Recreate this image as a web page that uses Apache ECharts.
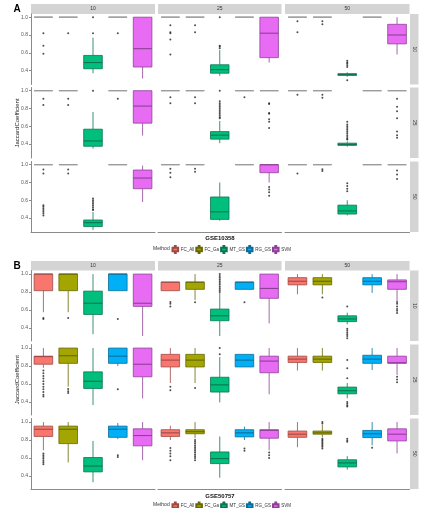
<!DOCTYPE html>
<html>
<head>
<meta charset="utf-8">
<script src="https://cdn.jsdelivr.net/npm/echarts@6/dist/echarts.min.js"></script>
<style>
  html, body { margin: 0; padding: 0; background: #fff; }
  #chart { width: 439px; height: 508px; }
</style>
</head>
<body>
<div id="chart"></div>
<script>
// methods on the x axis, facet labels
const methods = ['FC_All', 'FC_Ga', 'MT_GS', 'RG_GS', 'SVM'];
const colLabels = ['10', '25', '50'];
const rowLabels = ['10', '25', '50'];
const yTicks = [0.4, 0.6, 0.8, 1.0];

// box stats [min, Q1, median, Q3, max] per method, one list per column facet
// GSE10358, row 10
const a10Box = [
  [[1, 1, 1, 1, 1], [1, 1, 1, 1, 1], [0.37, 0.42, 0.49, 0.57, 0.77], [1, 1, 1, 1, 1], [0.31, 0.44, 0.646, 1, 1]],
  [[1, 1, 1, 1, 1], [1, 1, 1, 1, 1], [0.34, 0.37, 0.41, 0.465, 0.63], [1, 1, 1, 1, 1], [0.49, 0.545, 0.82, 1, 1]],
  [[1, 1, 1, 1, 1], [1, 1, 1, 1, 1], [0.33, 0.345, 0.355, 0.365, 0.38], [1, 1, 1, 1, 1], [0.58, 0.70, 0.80, 0.92, 1.0]]
];
const a10Out = [
  [[0.82, 0.68, 0.59], [0.82], [1.0, 0.82], [0.82], []],
  [[0.91, 0.83, 0.82, 0.75, 0.58], [0.91, 0.83], [1.0, 0.68, 0.67, 0.65], [], []],
  [[0.955, 0.83], [0.955, 0.92], [0.51, 0.49, 0.48, 0.46, 0.44, 0.29], [], []]
];
// GSE10358, row 25
const a25Box = [
  [[1, 1, 1, 1, 1], [1, 1, 1, 1, 1], [0.35, 0.375, 0.435, 0.567, 0.76], [1, 1, 1, 1, 1], [0.495, 0.635, 0.827, 1, 1]],
  [[1, 1, 1, 1, 1], [1, 1, 1, 1, 1], [0.41, 0.455, 0.50, 0.54, 0.66], [1, 1, 1, 1, 1], [1, 1, 1, 1, 1]],
  [[1, 1, 1, 1, 1], [1, 1, 1, 1, 1], [0.37, 0.385, 0.395, 0.41, 0.43], [1, 1, 1, 1, 1], [1, 1, 1, 1, 1]]
];
const a25Out = [
  [[0.91, 0.84], [0.91, 0.84], [1.0], [0.91], []],
  [[0.925, 0.86], [0.925, 0.86], [1.0, 0.88, 0.86, 0.84, 0.82, 0.80, 0.78, 0.76, 0.74, 0.72, 0.70, 0.69], [0.925], [0.86, 0.85, 0.75, 0.74, 0.68, 0.65, 0.58]],
  [[0.955], [0.955, 0.92], [0.65, 0.62, 0.60, 0.58, 0.56, 0.54, 0.52, 0.50, 0.48, 0.46, 0.45], [], [0.91, 0.82, 0.77, 0.69, 0.54, 0.50, 0.47]]
];
// GSE10358, row 50
const a50Box = [
  [[1, 1, 1, 1, 1], [1, 1, 1, 1, 1], [0.267, 0.304, 0.348, 0.378, 0.47], [1, 1, 1, 1, 1], [0.58, 0.73, 0.85, 0.94, 0.99]],
  [[1, 1, 1, 1, 1], [1, 1, 1, 1, 1], [0.37, 0.385, 0.47, 0.637, 0.80], [1, 1, 1, 1, 1], [0.80, 0.91, 1.0, 1.0, 1.0]],
  [[1, 1, 1, 1, 1], [1, 1, 1, 1, 1], [0.43, 0.445, 0.48, 0.545, 0.60], [1, 1, 1, 1, 1], [1, 1, 1, 1, 1]]
];
const a50Out = [
  [[0.945, 0.90, 0.545, 0.53, 0.51, 0.49, 0.47, 0.45, 0.43], [0.945, 0.90], [0.62, 0.60, 0.58, 0.56, 0.54, 0.52, 0.50, 0.49], [], []],
  [[0.955, 0.91, 0.86], [0.955, 0.92], [], [], [0.75, 0.72, 0.69, 0.65]],
  [[0.90], [0.95, 0.93], [0.79, 0.76, 0.73, 0.70], [], [0.935, 0.89, 0.84]]
];

// GSE50757, row 10
const b10Box = [
  [[0.575, 0.815, 1, 1, 1], [0.575, 0.815, 1, 1, 1], [0.33, 0.55, 0.675, 0.81, 1], [0.815, 0.815, 1, 1, 1], [0.31, 0.64, 0.675, 1, 1]],
  [[0.815, 0.815, 0.91, 0.91, 0.91], [0.71, 0.83, 0.91, 0.91, 1.0], [0.31, 0.48, 0.535, 0.61, 0.79], [0.83, 0.83, 0.91, 0.91, 0.91], [0.45, 0.73, 0.84, 1.0, 1.0]],
  [[0.775, 0.88, 0.92, 0.96, 1.0], [0.775, 0.88, 0.92, 0.96, 1.0], [0.44, 0.47, 0.50, 0.535, 0.57], [0.79, 0.88, 0.92, 0.96, 1.0], [0.70, 0.83, 0.915, 0.935, 1.0]]
];
const b10Out = [
  [[0.51, 0.50], [0.51], [], [0.50], []],
  [[0.69, 0.67, 0.64], [0.685], [1.0, 0.98, 0.96, 0.94, 0.92, 0.90, 0.88, 0.86, 0.84, 0.82, 0.80], [0.685], []],
  [[], [0.74], [0.64, 0.39, 0.37, 0.35, 0.33, 0.31, 0.285], [], [0.69, 0.67, 0.64, 0.61, 0.59, 0.565]]
];
// GSE50757, row 25
const b25Box = [
  [[0.78, 0.82, 0.905, 0.91, 1.0], [0.57, 0.83, 0.915, 1.0, 1.0], [0.365, 0.55, 0.63, 0.735, 1.0], [0.80, 0.83, 0.91, 1.0, 1.0], [0.44, 0.68, 0.82, 1.0, 1.0]],
  [[0.61, 0.79, 0.866, 0.93, 1.0], [0.61, 0.79, 0.866, 0.93, 1.0], [0.395, 0.51, 0.59, 0.675, 0.90], [0.79, 0.79, 0.866, 0.93, 0.93], [0.485, 0.725, 0.855, 0.91, 1.0]],
  [[0.75, 0.84, 0.877, 0.91, 1.0], [0.75, 0.84, 0.877, 0.91, 1.0], [0.44, 0.49, 0.525, 0.565, 0.61], [0.755, 0.83, 0.877, 0.92, 1.0], [0.70, 0.83, 0.837, 0.91, 1.0]]
];
const b25Out = [
  [[0.75, 0.72, 0.69, 0.66, 0.63, 0.60, 0.57, 0.54, 0.51, 0.48, 0.46], [0.545, 0.52, 0.50], [], [0.54], []],
  [[0.57, 0.53], [0.555], [1.0, 0.93], [], []],
  [[], [], [0.866, 0.775, 0.665, 0.40, 0.38, 0.36, 0.35], [], [0.68, 0.65, 0.62]]
];
// GSE50757, row 50
const b50Box = [
  [[0.685, 0.84, 0.92, 0.955, 1.0], [0.55, 0.76, 0.92, 0.955, 1.0], [0.33, 0.445, 0.51, 0.605, 0.79], [0.81, 0.83, 0.92, 0.955, 0.99], [0.575, 0.735, 0.85, 0.925, 1.0]],
  [[0.80, 0.84, 0.88, 0.915, 0.96], [0.82, 0.87, 0.893, 0.915, 1.0], [0.38, 0.537, 0.593, 0.667, 0.84], [0.80, 0.835, 0.88, 0.915, 0.95], [0.685, 0.82, 0.908, 0.915, 1.0]],
  [[0.72, 0.83, 0.865, 0.90, 1.0], [0.83, 0.865, 0.88, 0.90, 0.97], [0.47, 0.50, 0.545, 0.58, 0.62], [0.74, 0.827, 0.87, 0.907, 1.0], [0.65, 0.79, 0.865, 0.925, 1.0]]
];
const b50Out = [
  [[0.65, 0.63, 0.61, 0.59, 0.57, 0.55, 0.53], [], [], [0.63, 0.61], []],
  [[0.71, 0.68, 0.65, 0.62, 0.575], [0.80, 0.78, 0.76, 0.74, 0.72, 0.70, 0.68, 0.66, 0.64, 0.62, 0.60, 0.575], [], [0.705, 0.68], [0.66, 0.63, 0.60]],
  [[], [1.0, 0.985, 0.815, 0.80, 0.785, 0.77, 0.755, 0.74, 0.725, 0.705], [0.815, 0.795, 0.78], [0.715], []]
];

const fills = ['#F8766D', '#A3A500', '#00BF7D', '#00B0F6', '#E76BF3'];
const edges = ['#9e4a45', '#666700', '#0b7550', '#0b6c98', '#8d4196'];
const flatEdge = '#9c9c9c';

// layout of facets (pixels)
const colX = [[31, 155], [158, 281.5], [285, 409.5]];
const panels = [
  { label: 'A', title: 'GSE10358', rows: [[14, 84.5], [87.5, 158], [161.5, 232]], strip: [4, 14],
    yMin: 0.243, yMax: 1.036, box: [a10Box, a25Box, a50Box], out: [a10Out, a25Out, a50Out],
    labelY: 9, titleY: 238.5, legendY: 248.5 },
  { label: 'B', title: 'GSE50757', rows: [[270.5, 341], [344.5, 415], [418.5, 489]], strip: [261, 270.5],
    yMin: 0.254, yMax: 1.04, box: [b10Box, b25Box, b50Box], out: [b10Out, b25Out, b50Out],
    labelY: 266, titleY: 496, legendY: 505 }
];

const grids = [], xAxes = [], yAxes = [], series = [], graphics = [], legends = [];

function renderBox(params, api) {
  const k = api.value(0);
  const hw = api.size([1, 0])[0] * 0.75 / 2;
  const pMin = api.coord([k, api.value(1)]);
  const pQ1 = api.coord([k, api.value(2)]);
  const pMed = api.coord([k, api.value(3)]);
  const pQ3 = api.coord([k, api.value(4)]);
  const pMax = api.coord([k, api.value(5)]);
  const flat = api.value(1) === api.value(5);
  const stroke = flat ? flatEdge : edges[k];
  const cx = pMed[0];
  return {
    type: 'group',
    children: [
      { type: 'line', shape: { x1: cx, y1: pMax[1], x2: cx, y2: pQ3[1] }, style: { stroke: stroke, lineWidth: 0.8 } },
      { type: 'line', shape: { x1: cx, y1: pQ1[1], x2: cx, y2: pMin[1] }, style: { stroke: stroke, lineWidth: 0.8 } },
      { type: 'rect', shape: { x: cx - hw, y: pQ3[1], width: hw * 2, height: pQ1[1] - pQ3[1] },
        style: { fill: flat ? flatEdge : fills[k], stroke: stroke, lineWidth: flat ? 1.2 : 0.8 } },
      { type: 'line', shape: { x1: cx - hw, y1: pMed[1], x2: cx + hw, y2: pMed[1] }, style: { stroke: stroke, lineWidth: 1.1 } }
    ]
  };
}

let gi = 0;
panels.forEach(function (p, pi) {
  p.rows.forEach(function (ry, r) {
    colX.forEach(function (cx, c) {
      grids.push({ left: cx[0], top: ry[0], width: cx[1] - cx[0], height: ry[1] - ry[0] });
      xAxes.push({
        type: 'category', gridIndex: gi, data: methods,
        axisLine: { show: r === 2, onZero: false, lineStyle: { color: '#8a8a8a', width: 1 } },
        axisTick: { show: false }, axisLabel: { show: false }, splitLine: { show: false }
      });
      yAxes.push({
        type: 'value', gridIndex: gi, min: p.yMin, max: p.yMax,
        splitLine: { show: false },
        axisLine: { show: c === 0, lineStyle: { color: '#8a8a8a', width: 1 } },
        axisTick: { show: c === 0, length: 2, customValues: yTicks, lineStyle: { color: '#8a8a8a' } },
        axisLabel: { show: c === 0, customValues: yTicks, fontSize: 5, color: '#555', margin: 3,
          formatter: function (v) { return v.toFixed(1); } }
      });
      const boxes = p.box[r][c];
      series.push({
        type: 'custom', xAxisIndex: gi, yAxisIndex: gi, silent: true, animation: false,
        renderItem: renderBox,
        encode: { x: 0, y: [1, 2, 3, 4, 5] },
        data: boxes.map(function (b, k) { return [k].concat(b); })
      });
      const pts = [];
      p.out[r][c].forEach(function (vals, k) {
        vals.forEach(function (v) { pts.push([k, v]); });
      });
      series.push({
        type: 'scatter', xAxisIndex: gi, yAxisIndex: gi, silent: true, animation: false,
        symbolSize: 2, itemStyle: { color: '#222' }, data: pts
      });
      gi++;
    });
    // right strip
    graphics.push({ type: 'rect', shape: { x: 410, y: ry[0], width: 8.5, height: ry[1] - ry[0] },
      style: { fill: '#d4d4d4' }, silent: true });
    graphics.push({ type: 'text', x: 414.5, y: (ry[0] + ry[1]) / 2, rotation: -Math.PI / 2,
      style: { text: rowLabels[r], font: '5px "Liberation Sans"', fill: '#333', align: 'center', verticalAlign: 'middle' } });
  });
  // top strips
  colX.forEach(function (cx, c) {
    graphics.push({ type: 'rect', shape: { x: cx[0], y: p.strip[0], width: cx[1] - cx[0], height: p.strip[1] - p.strip[0] },
      style: { fill: '#d4d4d4' }, silent: true });
    graphics.push({ type: 'text', x: (cx[0] + cx[1]) / 2, y: (p.strip[0] + p.strip[1]) / 2,
      style: { text: colLabels[c], font: '5px "Liberation Sans"', fill: '#333', align: 'center', verticalAlign: 'middle' } });
  });
  const midY = (p.rows[0][0] + p.rows[2][1]) / 2;
  graphics.push({ type: 'text', x: 17.5, y: midY, rotation: Math.PI / 2,
    style: { text: 'JaccardCoefficient', font: '6px "Liberation Sans"', fill: '#222', align: 'center', verticalAlign: 'middle' } });
  graphics.push({ type: 'text', x: 220, y: p.titleY,
    style: { text: p.title, font: 'bold 6px "Liberation Sans"', fill: '#111', align: 'center', verticalAlign: 'middle' } });
  graphics.push({ type: 'text', x: 17, y: p.labelY,
    style: { text: p.label, font: 'bold 10px "Liberation Sans"', fill: '#000', align: 'center', verticalAlign: 'middle' } });
  graphics.push({ type: 'text', x: 153, y: p.legendY,
    style: { text: 'Method', font: '5px "Liberation Sans"', fill: '#333', align: 'left', verticalAlign: 'middle' } });
  legends.push({
    left: 171.5, top: p.legendY - 3.5, orient: 'horizontal', padding: 0,
    itemWidth: 7, itemHeight: 7, itemGap: 1, selectedMode: false,
    icon: 'path://M4.4,0h1.2v2.5h-1.2z M1,2.5h8v5h-8z M4.4,7.5h1.2v2.5h-1.2z',
    textStyle: { fontSize: 4.5, color: '#333', padding: [0, 0, 0, -3], lineHeight: 7 },
    data: methods
  });
});

// empty series only to feed the legend with method colours
methods.forEach(function (m, k) {
  series.push({ type: 'bar', name: m, xAxisIndex: 0, yAxisIndex: 0, data: [],
    itemStyle: { color: fills[k], borderColor: edges[k], borderWidth: 0.5 } });
});

const chart = echarts.init(document.getElementById('chart'), null, { renderer: 'canvas' });
chart.setOption({
  animation: false,
  textStyle: { fontFamily: 'Liberation Sans' },
  grid: grids,
  xAxis: xAxes,
  yAxis: yAxes,
  legend: legends,
  graphic: graphics,
  series: series
});
</script>
</body>
</html>
